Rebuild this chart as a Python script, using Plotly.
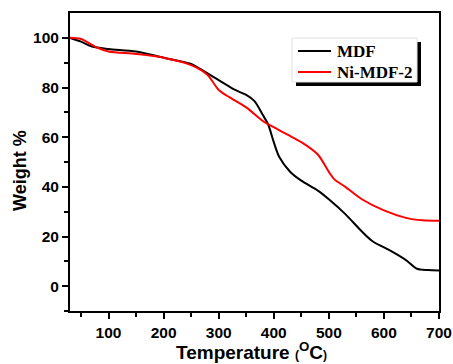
import plotly.graph_objects as go

temp_mdf = [30, 50, 70, 100, 150, 200, 250, 270, 300, 330, 350, 365, 380, 390, 400, 410, 430, 450, 480, 500, 530, 560, 580, 610, 640, 660, 680, 700]
wt_mdf = [100, 98.5, 96.5, 95.5, 94.5, 92, 89.5, 87, 83, 79, 77, 74.5, 69, 65, 58, 52, 46, 42.5, 38.5, 35, 29, 22, 18, 14.5, 10.5, 7, 6.5, 6.3]

temp_ni = [30, 50, 80, 100, 150, 200, 250, 280, 290, 300, 320, 350, 380, 400, 425, 450, 480, 500, 510, 530, 560, 600, 640, 670, 700]
wt_ni = [100, 99.5, 96, 94.5, 93.5, 92, 89, 85, 82, 79, 76, 72, 66.5, 64, 61, 58, 53, 46, 43, 40, 35, 30.5, 27.5, 26.5, 26.3]

series_names = ["MDF", "Ni-MDF-2"]
series_colors = ["black", "#ff0000"]

x_ticks = [100, 200, 300, 400, 500, 600, 700]
y_ticks = [0, 20, 40, 60, 80, 100]

# plot area in pixels: left 70, right 439, top 13, bottom 311
L, R, T, B = 70, 439, 13, 311
def px(x):
    return (x - L) / (R - L)
def py(y):
    return (B - y) / (B - T)

fig = go.Figure()
for xs, ys, nm, col in [(temp_mdf, wt_mdf, series_names[0], series_colors[0]),
                        (temp_ni, wt_ni, series_names[1], series_colors[1])]:
    fig.add_trace(go.Scatter(x=xs, y=ys, mode="lines", name=nm, showlegend=False,
                             line=dict(color=col, width=2, shape="spline", smoothing=0.8)))

tick_font = dict(family="Liberation Sans, Arial", size=15.5, color="black", weight="bold")
fig.update_layout(
    width=453, height=364,
    margin=dict(l=L, r=453 - R, t=T, b=364 - B),
    paper_bgcolor="white", plot_bgcolor="white",
    showlegend=False,
    xaxis=dict(range=[30, 700], tickvals=x_ticks, ticks="outside", ticklen=6, tickwidth=1.5,
               tickcolor="black", showline=True, linecolor="black", linewidth=2, mirror=True,
               showgrid=False, zeroline=False, automargin=False, tickfont=tick_font,
               minor=dict(tickvals=[50, 150, 250, 350, 450, 550, 650], ticks="outside", ticklen=4,
                          tickwidth=1.5, tickcolor="black")),
    yaxis=dict(range=[-10, 110], tickvals=y_ticks, ticks="outside", ticklen=6, tickwidth=1.5,
               tickcolor="black", showline=True, linecolor="black", linewidth=2, mirror=True,
               showgrid=False, zeroline=False, automargin=False, tickfont=tick_font,
               minor=dict(tickvals=[-10, 10, 30, 50, 70, 90], ticks="outside", ticklen=4,
                          tickwidth=1.5, tickcolor="black")),
)

title_font = dict(family="Liberation Sans, Arial", size=18, color="black", weight="bold")
fig.add_annotation(text="Temperature <span style='font-size:12px'>(</span><sup>O</sup>C<span style='font-size:12px'>)</span>",
                   xref="paper", yref="paper", x=px(251), y=py(351),
                   xanchor="center", yanchor="middle", showarrow=False,
                   font=dict(family="Liberation Sans, Arial", size=19, color="black", weight="bold"))
fig.add_annotation(text="Weight %", xref="paper", yref="paper",
                   x=px(20), y=py(171), textangle=-90,
                   xanchor="center", yanchor="middle", showarrow=False, font=title_font)

# legend box with drop shadow
fig.add_shape(type="rect", xref="paper", yref="paper",
              x0=px(296), x1=px(421), y0=py(86), y1=py(42),
              fillcolor="black", line=dict(width=0), layer="above")
fig.add_shape(type="rect", xref="paper", yref="paper",
              x0=px(292), x1=px(417), y0=py(82), y1=py(38),
              fillcolor="white", line=dict(width=1, color="#e0e0e0"), layer="above")
leg_rows = [51, 72]
leg_font = dict(family="Liberation Serif, Times New Roman", size=17, color="black", weight="bold")
for nm, col, ry in zip(series_names, series_colors, leg_rows):
    fig.add_shape(type="line", xref="paper", yref="paper",
                  x0=px(298), x1=px(331), y0=py(ry), y1=py(ry),
                  line=dict(color=col, width=2), layer="above")
    fig.add_annotation(text=nm, xref="paper", yref="paper", x=px(335), y=py(ry),
                       xanchor="left", yanchor="middle", showarrow=False, font=leg_font)

fig.write_html("out.html")
